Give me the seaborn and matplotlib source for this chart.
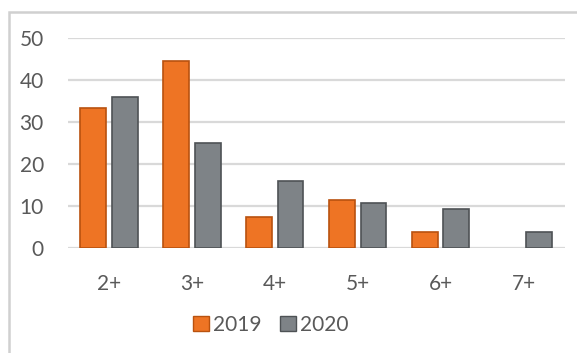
import matplotlib
matplotlib.use("Agg")
import matplotlib.pyplot as plt
import seaborn as sns
import pandas as pd
from matplotlib.patches import Rectangle

categories = ["2+", "3+", "4+", "5+", "6+", "7+"]
values_2019 = [33.4, 44.5, 7.4, 11.4, 3.7, 0.0]
values_2020 = [35.8, 25.0, 16.0, 10.8, 9.2, 3.8]
series = ["2019", "2020"]
yticks = [0, 10, 20, 30, 40, 50]

df = pd.DataFrame({
    "cat": categories * 2,
    "year": [series[0]] * len(categories) + [series[1]] * len(categories),
    "val": values_2019 + values_2020,
})

sns.set_theme(style="white")
plt.rcParams["font.family"] = ["Lato", "DejaVu Sans"]

W, H = 577, 353
fig = plt.figure(figsize=(W / 100, H / 100), dpi=100)
ax = fig.add_axes([67.5 / W, 1 - 248 / H, (565 - 67.5) / W, (248 - 37.7) / H])

palette = {"2019": "#EE7424", "2020": "#7E8387"}
sns.barplot(data=df, x="cat", y="val", hue="year", order=categories,
            hue_order=series, palette=palette, width=0.76, gap=0.18,
            ax=ax, legend=False, saturation=1)

edge = {"2019": "#B9520F", "2020": "#4E5255"}
for container, yr in zip(ax.containers, series):
    for bar in container:
        bar.set_edgecolor(edge[yr])
        bar.set_linewidth(1.2)
        bar.set_zorder(3)
        if bar.get_height() == 0:
            bar.set_visible(False)

ax.set_ylim(0, 50)
ax.set_xlim(-0.5, 5.5)
ax.set_yticks(yticks)
ax.yaxis.grid(True, color="#D9D9D9", linewidth=1.6, zorder=0)
ax.set_axisbelow(True)
for s in ax.spines.values():
    s.set_visible(False)
ax.set_xlabel("")
ax.set_ylabel("")
ax.tick_params(axis="y", length=0, pad=17, labelsize=15, labelcolor="#595959")
ax.tick_params(axis="x", length=0, pad=19, labelsize=15, labelcolor="#595959")

handles = [Rectangle((0, 0), 1, 1, facecolor=palette[s], edgecolor=edge[s], lw=1) for s in series]
fig.legend(handles, series, loc="center", bbox_to_anchor=(271 / W, 1 - 325 / H),
           ncol=2, frameon=False, fontsize=15, handlelength=0.75, handleheight=0.75,
           handletextpad=0.2, columnspacing=0.9, labelcolor="#595959")

fig.patches.append(Rectangle((9 / W, -0.1), 1.2, 1.1 - 12 / H, transform=fig.transFigure,
                             fill=False, edgecolor="#D0D0D0", linewidth=1.8))

fig.savefig("out.png", dpi=100, facecolor="white")
